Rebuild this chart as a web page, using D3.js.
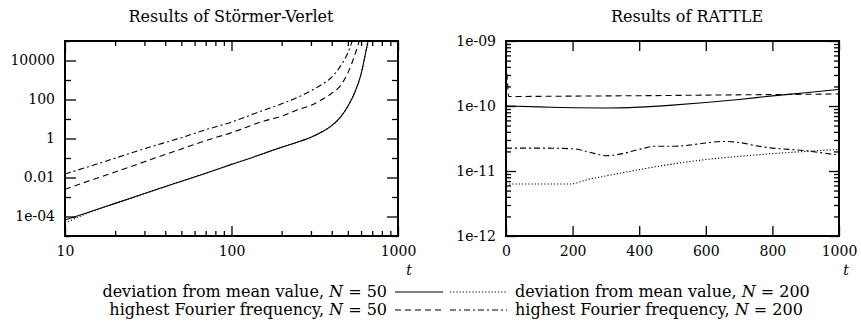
<!DOCTYPE html>
<html>
<head>
<meta charset="utf-8">
<script src="https://cdn.jsdelivr.net/npm/d3@7"></script>
<style>
  body { margin: 0; background: #fff; }
  svg { display: block; font-family: "DejaVu Serif", serif; }
  .tick line { stroke: #000; stroke-width: 1.3; }
  .tick text { fill: #000; }
</style>
</head>
<body>
<svg id="vis"></svg>
<script>
// Störmer-Verlet panel (log-log)
var svT       = [10, 14, 20, 30, 50, 70, 100, 150, 200, 250, 300, 350, 400, 450, 500, 550, 600, 650, 700];
var svDev50   = [6.6e-5, 1.7e-4, 4.7e-4, 1.5e-3, 6.4e-3, 0.0166, 0.047, 0.15, 0.36, 0.66, 1.15, 2.2, 4.6, 12, 45, 230, 2000, 5e4, 1e6];
var svDev200  = [4.6e-5, 1.6e-4, 4.7e-4, 1.5e-3, 6.4e-3, 0.0166, 0.047, 0.15, 0.36, 0.66, 1.15, 2.2, 4.6, 12, 45, 230, 2000, 5e4, 1e6];
var svFour50  = [2.5e-3, 6.8e-3, 0.019, 0.064, 0.29, 0.78, 2.0, 7.0, 14, 30, 50, 100, 210, 500, 2300, 1.9e4, 2e5, 2e6, 2e7];
var svFour200 = [0.015, 0.037, 0.098, 0.3, 1.1, 2.8, 7.0, 25, 60, 130, 280, 600, 1400, 5000, 2.5e4, 2.5e5, 3e6, 3e7, 3e8];

// RATTLE panel (linear t, log values)
var raT        = [0, 100, 200, 300, 400, 500, 600, 700, 800, 900, 1000];
var raDev50    = [1.0e-10, 9.7e-11, 9.4e-11, 9.3e-11, 9.6e-11, 1.03e-10, 1.13e-10, 1.26e-10, 1.43e-10, 1.6e-10, 1.8e-10];
var raDotT     = [0, 100, 190, 250, 300, 400, 500, 600, 700, 800, 900, 1000];
var raDev200   = [6.3e-12, 6.3e-12, 6.3e-12, 7.5e-12, 8.4e-12, 1.05e-11, 1.28e-11, 1.5e-11, 1.68e-11, 1.85e-11, 2.0e-11, 2.15e-11];
var raDashT    = [0, 4, 8, 200, 400, 600, 800, 1000];
var raFour50   = [4.5e-10, 2.5e-10, 1.4e-10, 1.42e-10, 1.44e-10, 1.47e-10, 1.5e-10, 1.53e-10];
var raDdT      = [0, 100, 200, 250, 300, 350, 400, 450, 500, 550, 600, 650, 700, 750, 800, 850, 900, 950, 1000];
var raFour200  = [2.25e-11, 2.25e-11, 2.2e-11, 1.95e-11, 1.72e-11, 1.85e-11, 2.15e-11, 2.4e-11, 2.4e-11, 2.5e-11, 2.7e-11, 2.85e-11, 2.75e-11, 2.45e-11, 2.25e-11, 2.15e-11, 2.05e-11, 1.9e-11, 1.75e-11];

// tick labels
var svXLabels = {10: "10", 100: "100", 1000: "1000"};
var svYLabels = {"-4": "1e-04", "-2": "0.01", "0": "1", "2": "100", "4": "10000"};
var raXTicks  = [0, 200, 400, 600, 800, 1000];
var raYLabels = {"-12": "1e-12", "-11": "1e-11", "-10": "1e-10", "-9": "1e-09"};

var titles = ["Results of Störmer-Verlet", "Results of RATTLE"];
var legendLabels = [
    ["deviation from mean value, ", "50"],
    ["deviation from mean value, ", "200"],
    ["highest Fourier frequency, ", "50"],
    ["highest Fourier frequency, ", "200"]
];
var dashes = ["none", "1.2,2", "6,4", "6,3,2,3"];

const WIDTH = 861;
const HEIGHT = 322;
const TOP = 41, BOTTOM = 236;
const TICKFONT = "14px";
const TEXTFONT = "16px";

let svg = d3.select("#vis")
    .attr("width", WIDTH)
    .attr("height", HEIGHT);

function logTicks(lo, hi) {
    var out = [];
    for (var e = lo; e < hi; e++) {
        for (var m = 1; m < 10; m++) out.push(m * Math.pow(10, e));
    }
    out.push(Math.pow(10, hi));
    return out;
}

function styleAxis(ax) {
    ax.attr("font-family", null).attr("font-size", TICKFONT);
    ax.select(".domain").remove();
}

function drawCurve(g, x, y, ts, vs, dash, clipId) {
    var pts = ts.map(function(t, i) { return [t, vs[i]]; });
    var line = d3.line()
        .x(function(d) { return x(d[0]); })
        .y(function(d) { return y(d[1]); })
        .curve(d3.curveMonotoneX);
    g.append("path")
        .datum(pts)
        .attr("clip-path", "url(#" + clipId + ")")
        .attr("d", line)
        .attr("fill", "none")
        .attr("stroke", "#000")
        .attr("stroke-width", 1.1)
        .attr("stroke-dasharray", dash);
}

// ---------- left panel ----------
var L = {x0: 65, x1: 398};
var xL = d3.scaleLog().domain([10, 1000]).range([L.x0, L.x1]);
var yL = d3.scaleLog().domain([1e-5, 1e5]).range([BOTTOM, TOP]);

var gL = svg.append("g");
gL.append("clipPath").attr("id", "clipL")
    .append("rect").attr("x", L.x0).attr("y", TOP).attr("width", L.x1 - L.x0).attr("height", BOTTOM - TOP);

var xTicksL = logTicks(1, 3);
function isMajorX(d) { return svXLabels[Math.round(d)] !== undefined && Math.abs(Math.log10(d) % 1) < 1e-9; }

[["bottom", BOTTOM, d3.axisBottom], ["top", TOP, d3.axisTop]].forEach(function(a) {
    var ax = gL.append("g")
        .attr("transform", "translate(0," + a[1] + ")")
        .call(a[2](xL).tickValues(xTicksL).tickSizeOuter(0).tickSizeInner(-10)
            .tickFormat(function(d) { return a[0] === "bottom" && isMajorX(d) ? svXLabels[Math.round(d)] : ""; }));
    styleAxis(ax);
    ax.selectAll(".tick line").attr("y2", function(d) {
        var len = isMajorX(d) ? 10 : 5;
        return a[0] === "bottom" ? -len : len;
    });
    ax.selectAll(".tick text").attr("y", 10).attr("dy", "0.71em");
});

var yTicksL = d3.range(-5, 6).map(function(e) { return Math.pow(10, e); });
function yLabL(d) { return svYLabels[String(Math.round(Math.log10(d)))]; }
[["left", L.x0, d3.axisLeft], ["right", L.x1, d3.axisRight]].forEach(function(a) {
    var ax = gL.append("g")
        .attr("transform", "translate(" + a[1] + ",0)")
        .call(a[2](yL).tickValues(yTicksL).tickSizeOuter(0).tickSizeInner(-10)
            .tickFormat(function(d) { return a[0] === "left" && yLabL(d) ? yLabL(d) : ""; }));
    styleAxis(ax);
    ax.selectAll(".tick line").attr("x2", function(d) {
        var len = yLabL(d) ? 11 : 6;
        return a[0] === "left" ? len : -len;
    });
    ax.selectAll(".tick text").attr("x", -10);
});

drawCurve(gL, xL, yL, svT, svDev200, dashes[1], "clipL");
drawCurve(gL, xL, yL, svT, svFour200, dashes[3], "clipL");
drawCurve(gL, xL, yL, svT, svFour50, dashes[2], "clipL");
drawCurve(gL, xL, yL, svT, svDev50, dashes[0], "clipL");

gL.append("rect")
    .attr("x", L.x0).attr("y", TOP).attr("width", L.x1 - L.x0).attr("height", BOTTOM - TOP)
    .attr("fill", "none").attr("stroke", "#000").attr("stroke-width", 2);

// ---------- right panel ----------
var R = {x0: 506, x1: 839};
var xR = d3.scaleLinear().domain([0, 1000]).range([R.x0, R.x1]);
var yR = d3.scaleLog().domain([1e-12, 1e-9]).range([BOTTOM, TOP]);

var gR = svg.append("g");
gR.append("clipPath").attr("id", "clipR")
    .append("rect").attr("x", R.x0).attr("y", TOP).attr("width", R.x1 - R.x0).attr("height", BOTTOM - TOP);

[["bottom", BOTTOM, d3.axisBottom], ["top", TOP, d3.axisTop]].forEach(function(a) {
    var ax = gR.append("g")
        .attr("transform", "translate(0," + a[1] + ")")
        .call(a[2](xR).tickValues(raXTicks).tickSizeOuter(0).tickSizeInner(-10)
            .tickFormat(function(d) { return a[0] === "bottom" ? String(d) : ""; }));
    styleAxis(ax);
    ax.selectAll(".tick text").attr("y", 10).attr("dy", "0.71em");
});

var yTicksR = logTicks(-12, -9);
function yLabR(d) {
    var e = Math.log10(d);
    if (Math.abs(e - Math.round(e)) > 1e-6) return undefined;
    return raYLabels[String(Math.round(e))];
}
[["left", R.x0, d3.axisLeft], ["right", R.x1, d3.axisRight]].forEach(function(a) {
    var ax = gR.append("g")
        .attr("transform", "translate(" + a[1] + ",0)")
        .call(a[2](yR).tickValues(yTicksR).tickSizeOuter(0).tickSizeInner(-10)
            .tickFormat(function(d) { return a[0] === "left" && yLabR(d) ? yLabR(d) : ""; }));
    styleAxis(ax);
    ax.selectAll(".tick line").attr("x2", function(d) {
        var len = yLabR(d) ? 10 : 5;
        return a[0] === "left" ? len : -len;
    });
    ax.selectAll(".tick text").attr("x", -10);
});

drawCurve(gR, xR, yR, raDotT, raDev200, dashes[1], "clipR");
drawCurve(gR, xR, yR, raDdT, raFour200, dashes[3], "clipR");
drawCurve(gR, xR, yR, raDashT, raFour50, dashes[2], "clipR");
drawCurve(gR, xR, yR, raT, raDev50, dashes[0], "clipR");

gR.append("rect")
    .attr("x", R.x0).attr("y", TOP).attr("width", R.x1 - R.x0).attr("height", BOTTOM - TOP)
    .attr("fill", "none").attr("stroke", "#000").attr("stroke-width", 2);

// ---------- titles and axis names ----------
svg.selectAll(".title")
    .data(titles)
    .enter()
    .append("text")
    .attr("class", "title")
    .text(function(d) { return d; })
    .attr("x", function(d, i) { return i === 0 ? 231 : 687; })
    .attr("y", 22)
    .attr("font-size", TEXTFONT)
    .style("text-anchor", "middle");

svg.selectAll(".tname")
    .data([409, 846])
    .enter()
    .append("text")
    .attr("class", "tname")
    .text("t")
    .attr("x", function(d) { return d; })
    .attr("y", 275)
    .attr("font-size", TICKFONT)
    .attr("font-style", "italic")
    .style("text-anchor", "middle");

// ---------- legend ----------
var legPos = [
    {tx: 387, lx0: 395, lx1: 443, y: 297, anchor: "end"},
    {tx: 515, lx0: 450, lx1: 507, y: 297, anchor: "start"},
    {tx: 387, lx0: 395, lx1: 443, y: 315, anchor: "end"},
    {tx: 515, lx0: 450, lx1: 507, y: 315, anchor: "start"}
];
legendLabels.forEach(function(lab, i) {
    var p = legPos[i];
    var t = svg.append("text")
        .attr("x", p.tx).attr("y", p.y)
        .attr("font-size", TEXTFONT)
        .style("text-anchor", p.anchor);
    t.append("tspan").text(lab[0]);
    t.append("tspan").attr("font-style", "italic").text("N");
    t.append("tspan").text(" = " + lab[1]);
    svg.append("line")
        .attr("x1", p.lx0).attr("x2", p.lx1)
        .attr("y1", p.y - 5).attr("y2", p.y - 5)
        .attr("stroke", "#000").attr("stroke-width", 1.1)
        .attr("stroke-dasharray", dashes[i]);
});
</script>
</body>
</html>
